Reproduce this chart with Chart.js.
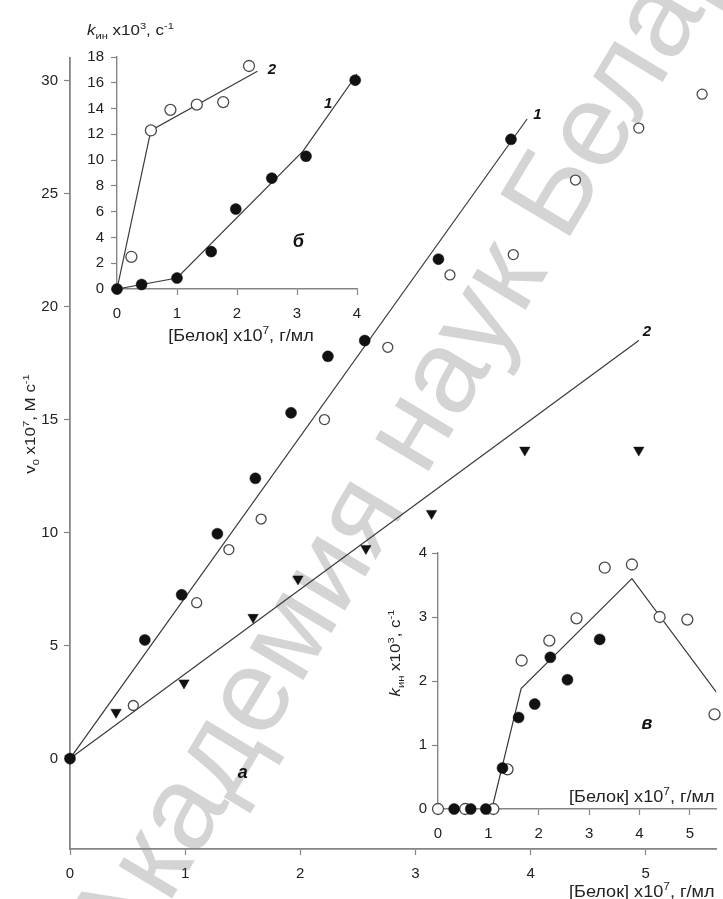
<!DOCTYPE html>
<html>
<head>
<meta charset="utf-8">
<script src="https://cdn.jsdelivr.net/npm/chart.js@4.4.0/dist/chart.umd.min.js"></script>
<style>
  body { margin: 0; background: #fff; }
  #wrap { position: relative; width: 723px; height: 899px; overflow: hidden; }
  canvas { position: absolute; }
</style>
</head>
<body>
<div id="wrap">
  <canvas id="main" width="723" height="899" style="left:0;top:0"></canvas>
  <canvas id="insetB" width="380" height="350" style="left:0;top:0"></canvas>
  <canvas id="insetV" width="343" height="330" style="left:380px;top:530px"></canvas>
</div>
<script>
// ---- main plot (а): v0 vs protein ----
const mainFilledX = [0, 0.65, 0.97, 1.28, 1.61, 1.92, 2.24, 2.56, 3.20, 3.83];
const mainFilledY = [0, 5.25, 7.25, 9.95, 12.4, 15.3, 17.8, 18.5, 22.1, 27.4];
const mainOpenX = [0.55, 1.10, 1.38, 1.66, 2.21, 2.76, 3.30, 3.85, 4.39, 4.94, 5.49];
const mainOpenY = [2.35, 6.9, 9.25, 10.6, 15.0, 18.2, 21.4, 22.3, 25.6, 27.9, 29.4];
const mainTriX = [0, 0.40, 0.99, 1.59, 1.98, 2.57, 3.14, 3.95, 4.94];
const mainTriY = [0, 2.05, 3.35, 6.25, 7.95, 9.3, 10.85, 13.65, 13.65];
const mainLine1X = [0, 3.97];
const mainLine1Y = [0, 28.3];
const mainLine2X = [0, 4.94];
const mainLine2Y = [0, 18.5];
const mainXTicks = [0, 1, 2, 3, 4, 5];
const mainXTickLabels = ['0', '1', '2', '3', '4', '5'];
const mainYTicks = [0, 5, 10, 15, 20, 25, 30];
const mainYTickLabels = ['0', '5', '10', '15', '20', '25', '30'];
// curve labels: [x, y, text]
const mainLabels = [[4.06, 28.5, '1'], [5.01, 18.9, '2']];
const mainPanel = [1.50, -0.62, 'а'];

// ---- inset б ----
const bFilledX = [0, 0.41, 1.0, 1.57, 1.98, 2.58, 3.15, 3.97];
const bFilledY = [0, 0.35, 0.85, 2.9, 6.2, 8.6, 10.3, 16.2];
const bOpenX = [0.24, 0.565, 0.89, 1.33, 1.77, 2.2];
const bOpenY = [2.5, 12.3, 13.9, 14.3, 14.5, 17.3];
const bLine1X = [0, 1.0, 3.1, 4.02];
const bLine1Y = [0, 0.85, 10.7, 16.8];
const bLine2X = [0, 0.565, 2.34];
const bLine2Y = [0, 12.3, 16.9];
const bXTicks = [0, 1, 2, 3, 4];
const bXTickLabels = ['0', '1', '2', '3', '4'];
const bYTicks = [0, 2, 4, 6, 8, 10, 12, 14, 16, 18];
const bYTickLabels = ['0', '2', '4', '6', '8', '10', '12', '14', '16', '18'];
const bLabels = [[3.52, 14.4, '1'], [2.58, 17.0, '2']];
const bPanel = [3.02, 3.65, 'б'];

// ---- inset в ----
const vFilledX = [0.32, 0.65, 0.95, 1.28, 1.60, 1.92, 2.23, 2.57, 3.21];
const vFilledY = [0, 0, 0, 0.64, 1.43, 1.64, 2.37, 2.02, 2.65];
const vOpenX = [0, 0.54, 1.10, 1.38, 1.66, 2.21, 2.75, 3.31, 3.85, 4.40, 4.95, 5.49];
const vOpenY = [0, 0, 0, 0.62, 2.32, 2.63, 2.98, 3.77, 3.82, 3.0, 2.96, 1.48];
const vLineX = [1.07, 1.65, 3.85, 5.55];
const vLineY = [0, 1.88, 3.6, 1.8];
const vXTicks = [0, 1, 2, 3, 4, 5];
const vXTickLabels = ['0', '1', '2', '3', '4', '5'];
const vYTicks = [0, 1, 2, 3, 4];
const vYTickLabels = ['0', '1', '2', '3', '4'];
const vPanel = [4.15, 1.33, 'в'];

const FONT = '"Liberation Sans", Arial, sans-serif';
const AXIS = '#858585';
const INK = '#222';
const LINE = '#3a3a3a';
const STRETCH = 1.13; // the source lettering is a bit wider than Arial

function pts(xs, ys) { return xs.map((x, i) => ({ x: x, y: ys[i] })); }

function filled(xs, ys, r) {
  return { data: pts(xs, ys), showLine: false, pointRadius: r, pointBackgroundColor: '#111',
           pointBorderColor: '#111', pointBorderWidth: 0.5, clip: false };
}
function open(xs, ys, r) {
  return { data: pts(xs, ys), showLine: false, pointRadius: r, pointBackgroundColor: '#fff',
           pointBorderColor: '#4a4a4a', pointBorderWidth: 1.3, clip: false };
}
function tri(xs, ys, r) {
  return { data: pts(xs, ys), showLine: false, pointStyle: 'triangle', pointRotation: 180,
           pointRadius: r, pointBackgroundColor: '#111', pointBorderColor: '#111',
           pointBorderWidth: 0.5, clip: false };
}
function line(xs, ys) {
  return { data: pts(xs, ys), showLine: true, pointRadius: 0, borderColor: LINE,
           borderWidth: 1.2, fill: false, tension: 0 };
}

function axis(min, max, ticks, labels, size, pad, bw) {
  return {
    type: 'linear', min: min, max: max,
    border: { color: AXIS, width: bw },
    grid: { display: true, drawOnChartArea: false, drawTicks: true, tickLength: 6,
            tickColor: AXIS, tickWidth: 1.2 },
    ticks: { color: INK, font: { family: FONT, size: 15 }, padding: pad, maxRotation: 0,
             autoSkip: false, callback: (v, i) => labels[i] },
    afterBuildTicks: s => { s.ticks = ticks.map(v => ({ value: v })); },
    afterFit: s => { if (s.isHorizontal()) s.height = size; else s.width = size; }
  };
}

// text with sub/superscripts: parts = [[text, kind]], kind '', 'sub', 'sup', 'it'
function setFont(ctx, kind, size) {
  const small = kind === 'sub' || kind === 'sup';
  ctx.font = (kind === 'it' ? 'italic ' : '') + (small ? size * 0.66 : size) + 'px ' + FONT;
}
function drawRich(ctx, parts, x, y, size, align, rot) {
  ctx.save();
  ctx.translate(x, y);
  if (rot) ctx.rotate(rot);
  ctx.scale(STRETCH, 1);
  let w = 0;
  parts.forEach(p => { setFont(ctx, p[1], size); w += ctx.measureText(p[0]).width; });
  let cx = align === 'center' ? -w / 2 : 0;
  ctx.fillStyle = INK;
  ctx.textBaseline = 'alphabetic';
  ctx.textAlign = 'left';
  parts.forEach(p => {
    setFont(ctx, p[1], size);
    const dy = p[1] === 'sup' ? -size * 0.42 : (p[1] === 'sub' ? size * 0.25 : 0);
    ctx.fillText(p[0], cx, dy);
    cx += ctx.measureText(p[0]).width;
  });
  ctx.restore();
}
function drawTag(chart, item, size) {
  const ctx = chart.ctx;
  ctx.save();
  ctx.font = 'italic bold ' + size + 'px ' + FONT;
  ctx.fillStyle = '#111';
  ctx.textAlign = 'center';
  ctx.textBaseline = 'middle';
  ctx.fillText(item[2], chart.scales.x.getPixelForValue(item[0]), chart.scales.y.getPixelForValue(item[1]));
  ctx.restore();
}

const proteinTitle = [['[Белок] x10', ''], ['7', 'sup'], [', г/мл', '']];
const kTitle = [['k', 'it'], ['ин', 'sub'], [' x10', ''], ['3', 'sup'], [', c', ''], ['-1', 'sup']];
const vTitle = [['v', ''], ['0', 'sub'], [' x10', ''], ['7', 'sup'], [', M c', ''], ['-1', 'sup']];

const baseOptions = {
  responsive: false, animation: false, devicePixelRatio: 1, events: [],
  plugins: { legend: { display: false }, tooltip: { enabled: false } }
};

// main chart
new Chart(document.getElementById('main'), {
  type: 'scatter',
  data: { datasets: [
    filled(mainFilledX, mainFilledY, 5.5),
    tri(mainTriX, mainTriY, 6),
    open(mainOpenX, mainOpenY, 5),
    line(mainLine1X, mainLine1Y),
    line(mainLine2X, mainLine2Y)
  ] },
  options: Object.assign({}, baseOptions, {
    layout: { padding: { left: 0, top: 58, right: 0, bottom: 0 } },
    scales: {
      x: axis(0, 5.615, mainXTicks, mainXTickLabels, 50, 10, 1.8),
      y: axis(-4, 31, mainYTicks, mainYTickLabels, 70, 6, 1.8)
    }
  }),
  plugins: [{
    id: 'mainDecor',
    beforeDraw(chart) {
      // watermark
      const ctx = chart.ctx;
      ctx.save();
      ctx.translate(168, 905);
      ctx.rotate(-59 * Math.PI / 180);
      ctx.font = '118px ' + FONT;
      ctx.fillStyle = '#d4d4d4';
      ctx.textBaseline = 'alphabetic';
      const off = ctx.measureText('А').width;
      ctx.fillText('Академия наук Беларуси', -off, 0);
      ctx.restore();
    },
    afterDraw(chart) {
      drawRich(chart.ctx, vTitle, 35, 424, 15, 'center', -Math.PI / 2);
      drawRich(chart.ctx, proteinTitle, 569, 897, 16, 'left', 0);
      mainLabels.forEach(l => drawTag(chart, l, 15));
      drawTag(chart, mainPanel, 18);
    }
  }]
});

// inset б
new Chart(document.getElementById('insetB'), {
  type: 'scatter',
  data: { datasets: [
    filled(bFilledX, bFilledY, 5.5),
    open(bOpenX, bOpenY, 5.5),
    line(bLine1X, bLine1Y),
    line(bLine2X, bLine2Y)
  ] },
  options: Object.assign({}, baseOptions, {
    layout: { padding: { left: 0, top: 57, right: 23, bottom: 0 } },
    scales: {
      x: axis(0, 4, bXTicks, bXTickLabels, 61, 10, 1.4),
      y: axis(0, 18, bYTicks, bYTickLabels, 117, 7, 1.4)
    }
  }),
  plugins: [{
    id: 'bDecor',
    afterDraw(chart) {
      drawRich(chart.ctx, kTitle, 87, 35, 15, 'left', 0);
      drawRich(chart.ctx, proteinTitle, 241, 341, 16, 'center', 0);
      bLabels.forEach(l => drawTag(chart, l, 15));
      drawTag(chart, bPanel, 18);
    }
  }]
});

// inset в
new Chart(document.getElementById('insetV'), {
  type: 'scatter',
  data: { datasets: [
    filled(vFilledX, vFilledY, 5.5),
    open(vOpenX, vOpenY, 5.5),
    line(vLineX, vLineY)
  ] },
  options: Object.assign({}, baseOptions, {
    layout: { padding: { left: 0, top: 23, right: 0, bottom: 0 } },
    scales: {
      x: axis(0, 5.523, vXTicks, vXTickLabels, 51, 10, 1.4),
      y: axis(0, 4, vYTicks, vYTickLabels, 58, 5, 1.4)
    }
  }),
  plugins: [{
    id: 'vDecor',
    afterDraw(chart) {
      drawRich(chart.ctx, kTitle, 20, 123, 15, 'center', -Math.PI / 2);
      drawRich(chart.ctx, proteinTitle, 189, 272, 16, 'left', 0);
      drawTag(chart, vPanel, 18);
    }
  }]
});
</script>
</body>
</html>
